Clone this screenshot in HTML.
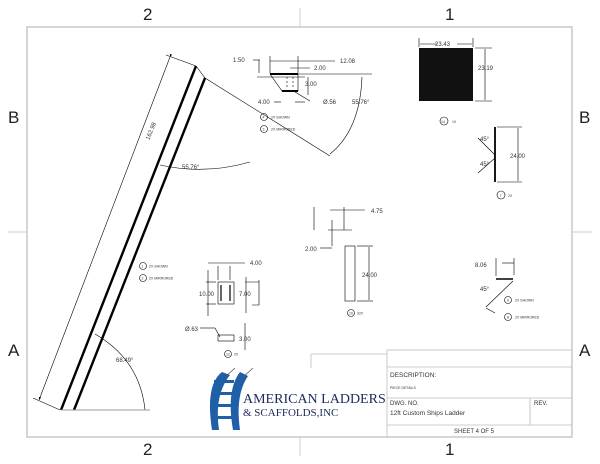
<!DOCTYPE html>
<html><head><style>
html,body{margin:0;padding:0;background:#fff;}
svg{display:block;font-family:"Liberation Sans",sans-serif;}
</style></head><body>
<svg width="600" height="464" viewBox="0 0 600 464" xmlns="http://www.w3.org/2000/svg">
<defs><marker id="a" markerWidth="6" markerHeight="6" refX="5" refY="3" orient="auto"><path d="M0,1 L5,3 L0,5z" fill="#000"/></marker></defs>
<rect x="27" y="27" width="545" height="410" fill="none" stroke="#bbb" stroke-width="1.2"/>
<g stroke="#ccc" stroke-width="1">
<line x1="300" y1="8" x2="300" y2="27"/><line x1="300" y1="437" x2="300" y2="456"/>
<line x1="8" y1="232" x2="27" y2="232"/><line x1="572" y1="232" x2="592" y2="232"/>
</g>
<g font-size="17" fill="#222">
<text x="143" y="20">2</text><text x="445" y="20">1</text>
<text x="143" y="455">2</text><text x="445" y="455">1</text>
<text x="8" y="123">B</text><text x="579" y="123">B</text>
<text x="8" y="356">A</text><text x="579" y="356">A</text>
</g>
<g stroke="#000" stroke-width="2.4"><line x1="196" y1="66" x2="61" y2="410"/><line x1="205" y1="78" x2="74" y2="410"/></g>
<g stroke="#000" stroke-width="0.6" fill="none">
<line x1="196" y1="66" x2="205" y2="78"/>
<line x1="205" y1="78" x2="330" y2="156"/>
<line x1="166" y1="55" x2="196" y2="66"/><line x1="33" y1="398" x2="60" y2="410"/>
<line x1="170" y1="57" x2="39" y2="400" marker-end="url(#a)" marker-start="url(#a)"/>
<path d="M160 165 Q205 175 250 162"/>
<path d="M95 334 Q140 360 145 410"/>
</g>
<line x1="61" y1="410" x2="150" y2="410" stroke="#999" stroke-width="1"/>
<g font-size="6" fill="#333">
<text x="143" y="135" transform="rotate(-68 150 133)">162.98</text>
<text x="182" y="169">55.76°</text>
<text x="116" y="362">68.49°</text>
</g>
<g stroke="#000" stroke-width="0.6" fill="none">
<path d="M270 74 L298 74 L298 91 L282 91 Z"/>
<line x1="270" y1="74" x2="298" y2="74" stroke-width="2"/>
<line x1="282" y1="91" x2="298" y2="91" stroke-width="2"/>
<line x1="287" y1="77" x2="287" y2="88" stroke-dasharray="2 2"/><line x1="293" y1="77" x2="293" y2="88" stroke-dasharray="2 2"/>
<line x1="253" y1="60" x2="260" y2="60"/><line x1="259" y1="60" x2="259" y2="73"/>
<line x1="257" y1="77" x2="305" y2="77"/>
<line x1="270" y1="56" x2="270" y2="73"/><line x1="298" y1="56" x2="298" y2="73"/>
<line x1="270" y1="61" x2="335" y2="61"/>
<line x1="290" y1="68" x2="310" y2="68"/>
<line x1="308" y1="77" x2="308" y2="95"/>
<line x1="274" y1="102" x2="281" y2="102"/><line x1="295" y1="102" x2="305" y2="102"/>
<line x1="295" y1="92" x2="310" y2="101"/>
<line x1="298" y1="74" x2="372" y2="74"/>
<path d="M330 154 Q360 130 362 77"/>
<circle cx="264" cy="117" r="3.5"/><circle cx="264" cy="129" r="3.5"/>
</g>
<g font-size="6" fill="#333">
<text x="233" y="62">1.50</text><text x="340" y="63">12.08</text><text x="314" y="70">2.00</text>
<text x="305" y="86">3.00</text><text x="258" y="104">4.00</text><text x="323" y="104">Ø.56</text>
<text x="352" y="104">55.76°</text>
<text font-size="3.5" x="262.5" y="118.5">4</text><text font-size="3.5" x="262.5" y="130.5">3</text>
<text font-size="3.5" x="271" y="118.5">2X SHOWN</text><text font-size="3.5" x="271" y="130.5">2X MIRRORED</text>
</g>
<rect x="419" y="48" width="54" height="53" fill="#111"/>
<g stroke="#000" stroke-width="0.6" fill="none">
<line x1="419" y1="38" x2="419" y2="47"/><line x1="473" y1="38" x2="473" y2="47"/>
<line x1="420" y1="44" x2="472" y2="44"/>
<line x1="475" y1="48" x2="492" y2="48"/><line x1="475" y1="101" x2="492" y2="101"/>
<line x1="485" y1="49" x2="485" y2="100"/>
<circle cx="444" cy="121" r="4"/>
<line x1="495" y1="127" x2="495" y2="182" stroke-width="1.8"/>
<line x1="497" y1="127" x2="522" y2="127"/><line x1="497" y1="182" x2="522" y2="182"/>
<line x1="518" y1="128" x2="518" y2="181"/>
<line x1="478" y1="138" x2="495" y2="155"/><line x1="478" y1="173" x2="495" y2="158"/>
<circle cx="501" cy="195" r="4"/>
</g>
<rect x="437" y="41" width="20" height="7" fill="#fff"/>
<g font-size="6" fill="#333">
<text x="435" y="46">23.43</text><text x="478" y="70">23.19</text>
<text x="441" y="123" font-size="3.5">14</text><text x="452" y="123" font-size="3.5">1X</text>
<text x="480" y="141">45°</text><text x="480" y="166">45°</text><text x="510" y="158">24.00</text>
<text x="499.5" y="197" font-size="3.5">7</text><text x="508" y="197" font-size="3.5">2X</text>
</g>
<g stroke="#000" stroke-width="0.6" fill="none">
<rect x="218" y="282" width="16" height="22"/>
<line x1="221" y1="285" x2="221" y2="301" stroke-width="1.2"/><line x1="230" y1="285" x2="230" y2="301" stroke-width="1.2"/>
<path d="M245 282 L259 282 M259 280 L259 305 L252 305"/>
<line x1="218" y1="266" x2="218" y2="280"/><line x1="230" y1="266" x2="230" y2="280"/>
<line x1="208" y1="263" x2="245" y2="263"/>
<line x1="206" y1="282" x2="216" y2="282"/><line x1="206" y1="304" x2="216" y2="304"/>
<line x1="208" y1="270" x2="208" y2="316"/>
<line x1="246" y1="277" x2="246" y2="313"/>
<rect x="218" y="335" width="16" height="6"/>
<line x1="200" y1="328" x2="215" y2="328"/><line x1="215" y1="328" x2="220" y2="337"/>
<line x1="245" y1="323" x2="245" y2="350"/>
<circle cx="228" cy="354" r="3.5"/>
<line x1="314" y1="207" x2="314" y2="230"/><line x1="344" y1="207" x2="344" y2="230"/>
<line x1="330" y1="210" x2="365" y2="210"/>
<line x1="328" y1="230" x2="352" y2="230"/>
<line x1="332" y1="220" x2="332" y2="246"/><line x1="320" y1="248" x2="332" y2="248"/>
<rect x="345" y="246" width="10" height="55"/>
<line x1="357" y1="246" x2="373" y2="246"/><line x1="357" y1="301" x2="373" y2="301"/>
<line x1="369" y1="247" x2="369" y2="300"/>
<circle cx="351" cy="313" r="3.5"/>
<line x1="502" y1="263" x2="514" y2="263"/><line x1="514" y1="258" x2="514" y2="275"/><line x1="496" y1="258" x2="496" y2="276"/>
<line x1="486" y1="308" x2="495" y2="313"/>
<circle cx="508" cy="300" r="3.5"/><circle cx="508" cy="317" r="3.5"/>
<circle cx="143" cy="266" r="3.5"/><circle cx="143" cy="278" r="3.5"/>
</g>
<line x1="496" y1="279" x2="513" y2="279" stroke="#000" stroke-width="1.6"/>
<line x1="486" y1="307" x2="513" y2="281" stroke="#000" stroke-width="0.6"/>
<g font-size="6" fill="#333">
<text x="250" y="265">4.00</text><text x="199" y="296">10.00</text><text x="239" y="296">7.00</text>
<text x="185" y="331">Ø.63</text><text x="239" y="341">3.00</text>
<text x="226" y="355.5" font-size="3.5">12</text><text x="234" y="355.5" font-size="3.5">2X</text>
<text x="371" y="213">4.75</text><text x="305" y="251">2.00</text><text x="362" y="277">24.00</text>
<text x="349" y="314.5" font-size="3.5">10</text><text x="357" y="314.5" font-size="3.5">32X</text>
<text x="475" y="267">8.06</text><text x="480" y="291">45°</text>
<text x="507" y="301.5" font-size="3.5">9</text><text x="515" y="301.5" font-size="3.5">2X SHOWN</text>
<text x="507" y="318.5" font-size="3.5">8</text><text x="515" y="318.5" font-size="3.5">2X MIRRORED</text>
<text x="141.5" y="267.5" font-size="3.5">1</text><text x="149" y="267.5" font-size="3.5">2X SHOWN</text>
<text x="141.5" y="279.5" font-size="3.5">2</text><text x="149" y="279.5" font-size="3.5">2X MIRRORED</text>
</g>
<g stroke="#bbb" stroke-width="0.8" fill="none">
<line x1="311" y1="354" x2="311" y2="368"/><line x1="311" y1="354" x2="387" y2="354"/>
<rect x="387" y="350" width="185" height="87"/>
<line x1="387" y1="367" x2="572" y2="367"/>
<line x1="387" y1="398" x2="572" y2="398"/>
<line x1="387" y1="425" x2="572" y2="425"/>
<line x1="530" y1="398" x2="530" y2="425"/>
</g>
<g fill="#333">
<text x="390" y="377" font-size="6.5">DESCRIPTION:</text>
<text x="390" y="389" font-size="3.5">PIECE DETAILS</text>
<text x="390" y="405" font-size="6">DWG. NO.</text>
<text x="390" y="415" font-size="6.5">12ft Custom Ships Ladder</text>
<text x="534" y="405" font-size="6">REV.</text>
<text x="454" y="433" font-size="6">SHEET 4 OF 5</text>
</g>
<g fill="#1f5fa8">
<path d="M222 372 Q205 385 212 430 L219 430 Q214 395 230 375 Z"/>
<path d="M240 372 Q226 390 233 430 L240 430 Q235 395 248 376 Z"/>
<rect x="214" y="380" width="20" height="3"/><rect x="212" y="392" width="22" height="3"/><rect x="211" y="404" width="23" height="3"/><rect x="211" y="416" width="23" height="3"/>
</g>
<g stroke="#555" stroke-width="0.8" fill="none"><path d="M224 378 L235 368"/><path d="M242 378 L253 368"/></g>
<text x="243" y="403" font-family="Liberation Serif,serif" font-size="14" fill="#1a2a5a">AMERICAN LADDERS</text>
<text x="243" y="416" font-family="Liberation Serif,serif" font-size="11" fill="#1a2a5a">&amp; SCAFFOLDS,INC</text>
</svg>
</body></html>
